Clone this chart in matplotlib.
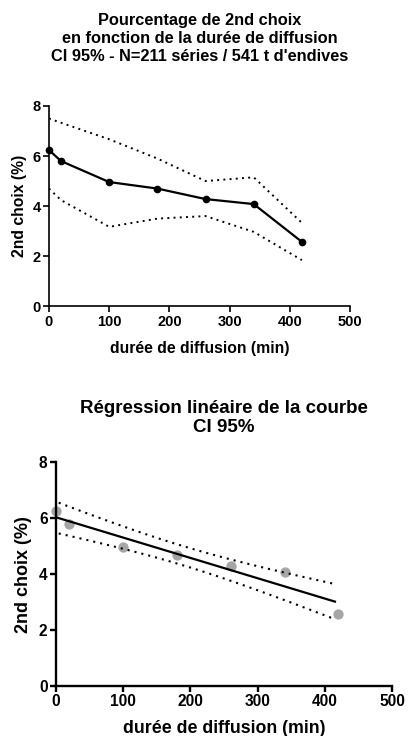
import numpy as np
import matplotlib
matplotlib.use('Agg')
from matplotlib import pyplot as plt

plt.rcParams['font.family'] = ['Liberation Sans', 'DejaVu Sans']
plt.rcParams['font.weight'] = 'bold'

# Données
duree = [0, 20, 100, 180, 260, 340, 420]
choix2 = [6.24, 5.80, 4.96, 4.70, 4.28, 4.08, 2.57]
ci_haut = [7.50, 7.33, 6.67, 5.90, 5.00, 5.15, 3.33]
ci_bas = [4.70, 4.24, 3.17, 3.50, 3.60, 2.97, 1.84]

xticks = [0, 100, 200, 300, 400, 500]
yticks = [0, 2, 4, 6, 8]
t_crit = 2.571  # t de Student, 5 ddl, 95%


def style_axes(ax, tick_size, lw):
    ax.set_xlim(0, 500)
    ax.set_ylim(0, 8)
    ax.set_xticks(xticks)
    ax.set_yticks(yticks)
    for s in ['top', 'right']:
        ax.spines[s].set_visible(False)
    for s in ['left', 'bottom']:
        ax.spines[s].set_linewidth(lw)
    ax.tick_params(direction='out', width=lw, length=4, pad=2, labelsize=tick_size)
    for lab in ax.get_xticklabels() + ax.get_yticklabels():
        lab.set_fontweight('bold')


fig = plt.figure(figsize=(4.08, 7.36), dpi=100)

# Graphique du haut
ax1 = fig.add_axes([0.120, 0.584, 0.738, 0.272])
ax1.plot(duree, choix2, color='black', lw=1.6, marker='o', ms=4.5, clip_on=False, zorder=3)
ax1.plot(duree, ci_haut, color='black', lw=1.4, linestyle=(0, (1, 2.2)))
ax1.plot(duree, ci_bas, color='black', lw=1.4, linestyle=(0, (1, 2.2)))
style_axes(ax1, 10.5, 1.2)
ax1.set_xlabel('durée de diffusion (min)', fontsize=11.3, fontweight='bold', labelpad=9)
ax1.set_ylabel('2nd choix (%)', fontsize=11.3, fontweight='bold', labelpad=4)
fig.text(0.49, 0.982, "Pourcentage de 2nd choix\nen fonction de la durée de diffusion\nCI 95% - N=211 séries / 541 t d'endives",
         ha='center', va='top', fontsize=11.8, fontweight='bold', linespacing=1.25)

# Régression linéaire
x = np.array(duree, dtype=float)
y = np.array(choix2)
pente, origine = np.polyfit(x, y, 1)
res = y - (pente * x + origine)
s = np.sqrt(np.sum(res ** 2) / (len(x) - 2))
sxx = np.sum((x - x.mean()) ** 2)
xr = np.linspace(0, 415, 100)
yr = pente * xr + origine
demi = t_crit * s * np.sqrt(1 / len(x) + (xr - x.mean()) ** 2 / sxx)

ax2 = fig.add_axes([0.137, 0.068, 0.824, 0.304])
ax2.scatter(duree, choix2, s=55, color='#a6a6a6', zorder=2, clip_on=False, linewidths=0)
ax2.plot(xr, yr, color='black', lw=1.6, zorder=3)
ax2.plot(xr[1:], (yr + demi)[1:], color='black', lw=1.5, linestyle=(0, (1, 2.4)), zorder=3)
ax2.plot(xr[1:], (yr - demi)[1:], color='black', lw=1.5, linestyle=(0, (1, 2.4)), zorder=3)
style_axes(ax2, 11.2, 1.7)
ax2.set_xlabel('durée de diffusion (min)', fontsize=12.8, fontweight='bold', labelpad=8)
ax2.set_ylabel('2nd choix (%)', fontsize=13, fontweight='bold', labelpad=5)
ax2.set_title('Régression linéaire de la courbe\nCI 95%', fontsize=13.5, fontweight='bold',
              linespacing=1.15, pad=22)

fig.savefig('out.png', dpi=100)
